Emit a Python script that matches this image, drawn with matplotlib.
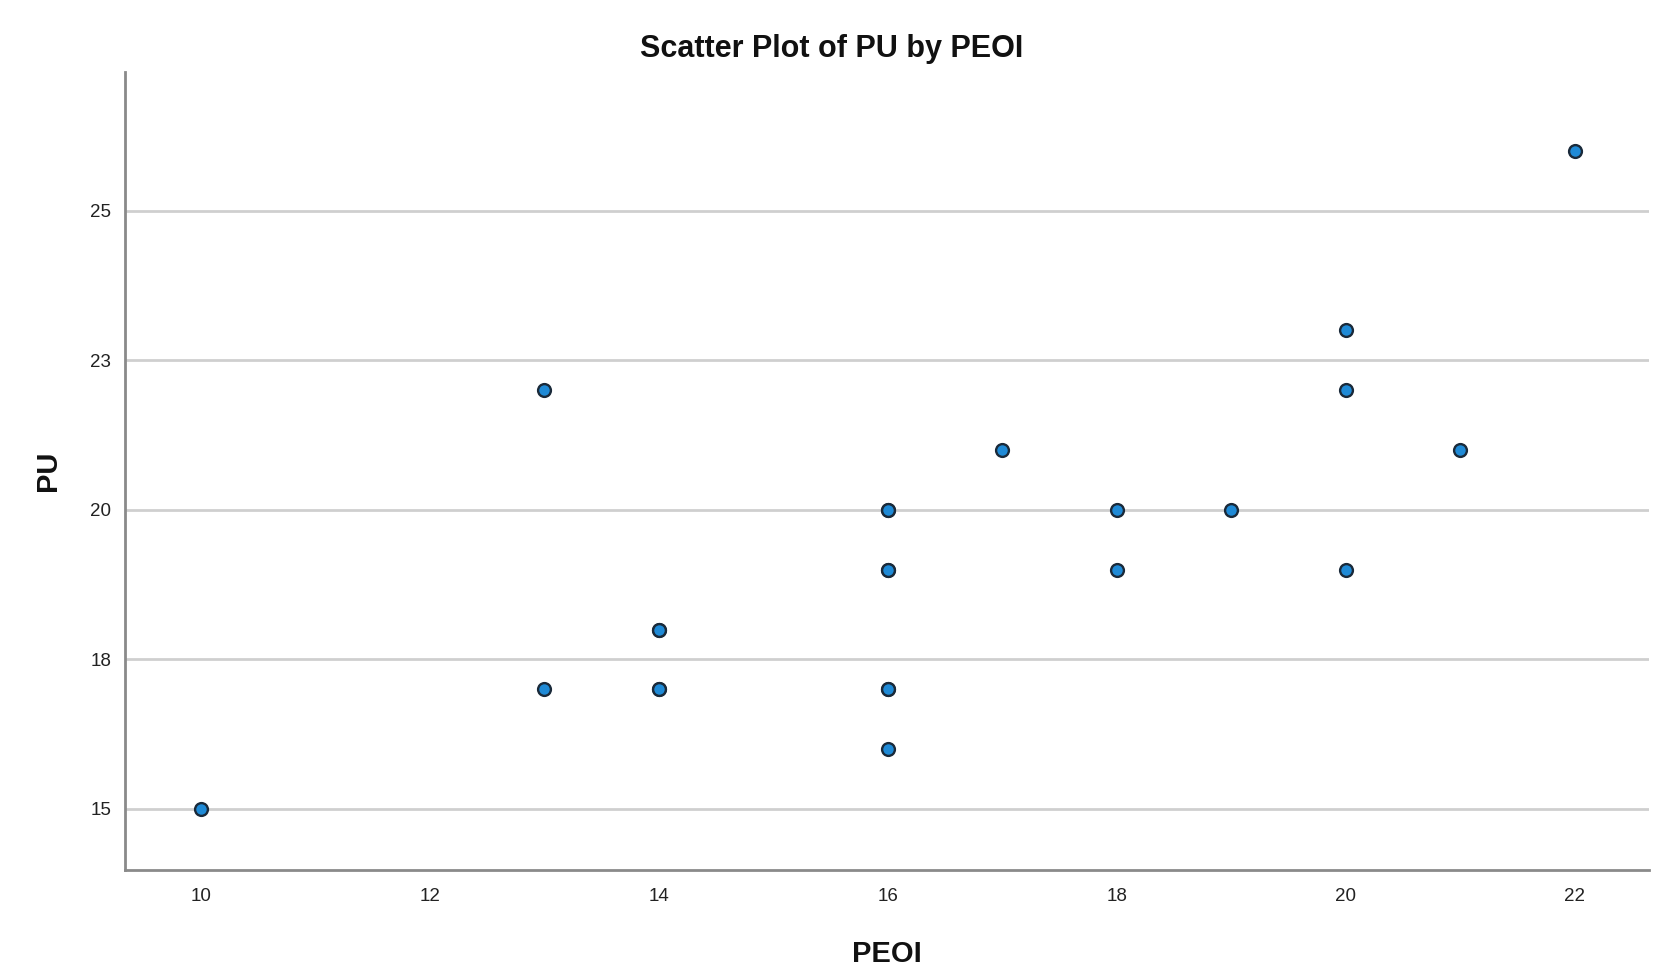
import matplotlib
matplotlib.use("Agg")
import matplotlib.pyplot as plt

# Data
peoi = [10, 13, 13, 14, 14, 14, 14, 16, 16, 16, 16, 16, 16, 16, 17, 18, 18, 19, 20, 20, 20, 21, 22]
pu   = [15, 22, 17, 18, 18, 17, 17, 20, 20, 19, 17, 17, 16, 19, 21, 20, 19, 20, 23, 22, 19, 21, 26]

x_ticks = [10, 12, 14, 16, 18, 20, 22]
y_ticks = [15, 17.5, 20, 22.5, 25]
y_tick_labels = ["15", "18", "20", "23", "25"]

title = "Scatter Plot of PU by PEOI"
x_label = "PEOI"
y_label = "PU"

plt.rcParams['font.family'] = ['Liberation Sans', 'DejaVu Sans']

fig = plt.figure(figsize=(16.63, 9.67), dpi=100)
ax = fig.add_axes([0.0752, 0.1003, 0.9164, 0.8252])

ax.scatter(peoi, pu, s=85, facecolor='#1f8ad6', edgecolor='#1a2a3a',
           linewidth=1.7, zorder=3)

ax.set_xlim(9.34, 22.65)
ax.set_ylim(13.98, 27.32)
ax.set_xticks(x_ticks)
ax.set_xticklabels([str(t) for t in x_ticks])
ax.set_yticks(y_ticks)
ax.set_yticklabels(y_tick_labels)
ax.tick_params(axis='both', length=0, labelsize=13.5, colors='#222222')
ax.tick_params(axis='x', pad=13)
ax.tick_params(axis='y', pad=10)

ax.yaxis.grid(True, color='#cfcfcf', linewidth=2.0, zorder=0)
ax.xaxis.grid(False)
ax.set_axisbelow(True)

for side in ['top', 'right']:
    ax.spines[side].set_visible(False)
for side in ['left', 'bottom']:
    ax.spines[side].set_color('#8a8a8a')
    ax.spines[side].set_linewidth(2.0)

fig.text(0.5, 0.949, title, ha='center', va='center', fontsize=22,
         fontweight='bold', color='#111111')
fig.text(0.5335, 0.013, x_label, ha='center', va='center', fontsize=21,
         fontweight='bold', color='#111111')
fig.text(0.029, 0.513, y_label, ha='center', va='center', fontsize=21,
         fontweight='bold', color='#111111', rotation=90)

fig.savefig("out.png", dpi=100, facecolor='white')
